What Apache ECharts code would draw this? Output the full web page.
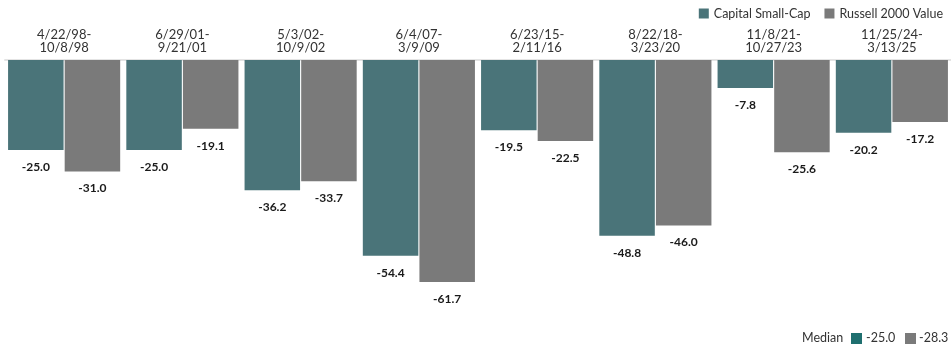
<!DOCTYPE html>
<html><head><meta charset="utf-8">
<script src="https://cdn.jsdelivr.net/npm/echarts@6/dist/echarts.min.js"></script>
<style>html,body{margin:0;padding:0;background:#fff}#c{width:951px;height:345px}</style>
</head><body><div id="c"></div>
<script>
var categories = ['4/22/98-\n10/8/98','6/29/01-\n9/21/01','5/3/02-\n10/9/02','6/4/07-\n3/9/09','6/23/15-\n2/11/16','8/22/18-\n3/23/20','11/8/21-\n10/27/23','11/25/24-\n3/13/25'];
var capitalSmallCap = [-25.0, -25.0, -36.2, -54.4, -19.5, -48.8, -7.8, -20.2];
var russell2000Value = [-31.0, -19.1, -33.7, -61.7, -22.5, -46.0, -25.6, -17.2];
var seriesNames = ['Capital Small-Cap', 'Russell 2000 Value'];
var medianLabel = 'Median';
var medians = [-25.0, -28.3];

var FONT = 'Lato, "Noto Sans", sans-serif';
var TEAL = '#4a7479', GRAY = '#7a7a7a', MED_TEAL = '#1f6f6f';
var chart = echarts.init(document.getElementById('c'));
function lbl(){return {show:true,position:'bottom',distance:11,fontFamily:FONT,fontWeight:'bold',fontSize:12,color:'#1a1a1a',formatter:function(p){return p.value.toFixed(1);}};}
chart.setOption({
  animation:false,
  grid:{left:5,top:60,width:952,height:252,containLabel:false},
  legend:{right:3,top:2,itemWidth:10,itemHeight:10,itemGap:14,icon:'rect',
    textStyle:{fontFamily:FONT,fontSize:12.5,color:'#333'},data:seriesNames},
  xAxis:{type:'category',position:'top',data:categories,
    axisLine:{show:true,lineStyle:{color:'#e4e4e4',width:2}},axisTick:{show:false},
    axisLabel:{margin:6,fontFamily:FONT,fontSize:13,color:'#333',lineHeight:13,interval:0}},
  yAxis:{type:'value',min:-70,max:0,show:false,splitLine:{show:false}},
  series:[
    {name:seriesNames[0],type:'bar',data:capitalSmallCap,barWidth:55.5,barGap:'2%',itemStyle:{color:TEAL},label:lbl()},
    {name:seriesNames[1],type:'bar',data:russell2000Value,barWidth:55.5,itemStyle:{color:GRAY},label:lbl()}
  ],
  graphic:[
    {type:'text',left:802,top:331,style:{text:medianLabel,font:'12.5px '+FONT,fill:'#333'}},
    {type:'rect',left:851,top:333,shape:{width:11,height:11},style:{fill:MED_TEAL}},
    {type:'text',left:866,top:331,style:{text:medians[0].toFixed(1),font:'12.5px '+FONT,fill:'#333'}},
    {type:'rect',left:905,top:333,shape:{width:11,height:11},style:{fill:GRAY}},
    {type:'text',left:919,top:331,style:{text:medians[1].toFixed(1),font:'12.5px '+FONT,fill:'#333'}}
  ]
});
</script></body></html>
